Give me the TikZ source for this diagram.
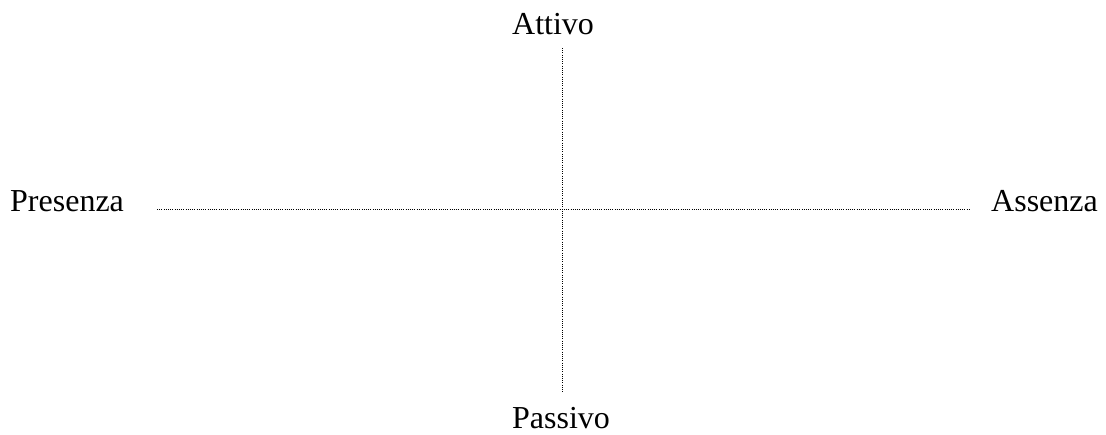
\documentclass[tikz,border=0pt]{standalone}
\usepackage{fontspec}
\setmainfont{Liberation Serif}
\begin{document}
\begin{tikzpicture}[x=1pt,y=1pt,
  lbl/.style={inner sep=0pt,anchor=base west,font=\fontsize{32}{38}\selectfont},
  axisline/.style={line width=1pt,dash pattern=on 1pt off 1.2pt}]
\useasboundingbox (0,0) rectangle (1106,435);
\node[lbl] (att) at (512,400) {Attivo};
\node[lbl] (pas) at (512,6) {Passivo};
\node[lbl] (pre) at (10,223) {Presenza};
\node[lbl] (ass) at (991,223) {Assenza};
\coordinate (vt) at (562.5,387);
\coordinate (vb) at (562.5,42);
\coordinate (hl) at (157,225);
\coordinate (hr) at (970,225);
\draw[axisline] (vt) -- (vb);
\draw[axisline] (hl) -- (hr);
\end{tikzpicture}
\end{document}
